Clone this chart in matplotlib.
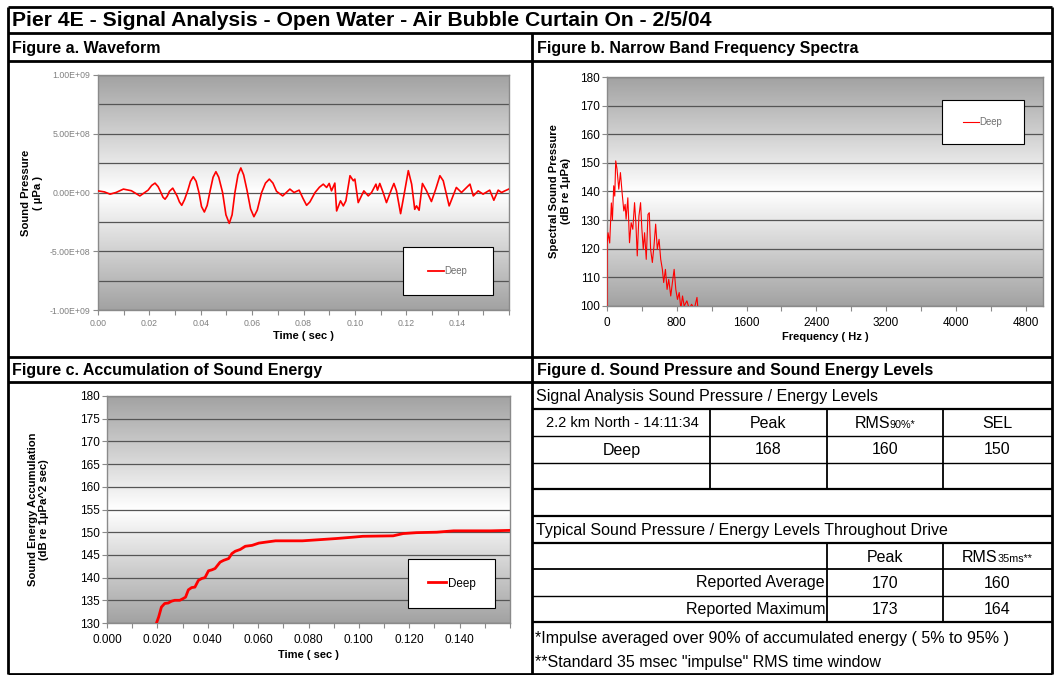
import numpy as np
import matplotlib
matplotlib.use("Agg")
import matplotlib.pyplot as plt
from matplotlib.colors import LinearSegmentedColormap
from matplotlib.patches import Rectangle
from matplotlib.lines import Line2D
from matplotlib.offsetbox import TextArea, HPacker, AnnotationBbox
from matplotlib.ticker import MultipleLocator, FixedLocator, FuncFormatter

plt.rcParams['font.family'] = ['Liberation Sans', 'DejaVu Sans']

W, H = 1054, 675
RED = '#ff0000'

TITLE = "Pier 4E - Signal Analysis - Open Water - Air Bubble Curtain On - 2/5/04"
PANEL_TITLES = ["Figure a. Waveform", "Figure b. Narrow Band Frequency Spectra",
                "Figure c. Accumulation of Sound Energy",
                "Figure d. Sound Pressure and Sound Energy Levels"]

# Figure a: waveform, time (s) / pressure (x1e8 uPa)
wave_t = [0.0000, 0.0025, 0.0047, 0.0070, 0.0099, 0.0130, 0.0163, 0.0195, 0.0209, 0.0222,
          0.0234, 0.0245, 0.0253, 0.0261, 0.0270, 0.0278, 0.0291, 0.0308, 0.0317, 0.0326,
          0.0337, 0.0350, 0.0360, 0.0371, 0.0382, 0.0393, 0.0403, 0.0414, 0.0425, 0.0437,
          0.0448, 0.0459, 0.0470, 0.0485, 0.0498, 0.0511, 0.0522, 0.0533, 0.0545, 0.0556,
          0.0567, 0.0580, 0.0594, 0.0607, 0.0620, 0.0637, 0.0652, 0.0667, 0.0681, 0.0695,
          0.0719, 0.0747, 0.0763, 0.0783, 0.0798, 0.0812, 0.0825, 0.0845, 0.0862, 0.0877,
          0.0890, 0.0900, 0.0909, 0.0922, 0.0929, 0.0944, 0.0955, 0.0965, 0.0981, 0.0994,
          0.1000, 0.1013, 0.1035, 0.1052, 0.1065, 0.1082, 0.1088, 0.1097, 0.1110, 0.1123,
          0.1143, 0.1152, 0.1162, 0.1178, 0.1193, 0.1208, 0.1221, 0.1233, 0.1240, 0.1250, 0.1263,
          0.1279, 0.1298, 0.1315, 0.1331, 0.1344, 0.1367, 0.1395, 0.1415, 0.1448, 0.1461, 0.1480,
          0.1499, 0.1525, 0.1541, 0.1558, 0.1571, 0.1584, 0.1600]
wave_p = [0.14, 0.05, -0.14, 0.0, 0.29, 0.15, -0.29, 0.2, 0.6, 0.8,
          0.5, 0.0, -0.4, -0.57, -0.3, 0.1, 0.37, -0.3, -0.8, -1.09,
          -0.6, 0.2, 0.95, 1.34, 0.95, 0.0, -1.2, -1.66, -1.1, 0.2,
          1.3, 1.77, 1.3, 0.0, -1.9, -2.63, -1.9, 0.0, 1.5, 2.09,
          1.5, 0.2, -1.4, -2.06, -1.5, 0.0, 0.8, 1.14, 0.8, 0.1,
          -0.29, 0.29, 0.0, 0.2, -0.5, -1.09, -0.8, 0.0, 0.45, 0.71,
          0.43, 0.77, 0.14, 0.8, -1.57, -0.71, -1.14, -0.71, 1.43, 1.0,
          1.14, -0.86, 0.14, -0.29, 0.0, 0.71, 0.2, 0.77, 0.0, -0.86,
          0.29, 0.77, 0.14, -1.8, 0.0, 1.86, 0.71, -1.43, -1.14, -1.51, 0.77,
          0.14, -0.77, 0.3, 1.43, 1.0, -1.14, 0.43, 0.0, 0.71, -0.29, 0.14,
          -0.14, 0.2, -0.66, 0.2, 0.0, 0.14, 0.3]

# Figure b: narrow band spectrum, Hz / dB re 1uPa
spec_f = [0, 2, 12, 31, 50, 62, 77, 89, 100, 115, 135, 154, 173, 193, 208, 219,
          239, 258, 277, 296, 316, 331, 347, 366, 385, 400, 416, 431, 450, 470,
          485, 500, 520, 539, 558, 577, 597, 616, 635, 650, 670, 689, 708, 731,
          750, 770, 789, 808, 828, 847, 866, 885, 916, 943, 970, 1001, 1032, 1040,
          1047]
spec_db = [98, 122, 125.6, 122, 136, 130, 142, 138.4, 150.7, 147.8, 140.8, 146.6,
           139.6, 133.2, 135.5, 130.3, 137.8, 122.1, 129.1, 126.8, 136.1, 129.1,
           117.5, 131.4, 136.1, 126.8, 119.8, 125.6, 116.3, 132, 132.6, 119.8,
           115.2, 121, 128.6, 119.8, 123.3, 116.3, 112.8, 108.2, 112.8, 105.8,
           109.3, 103.5, 108.2, 112.8, 105.8, 102.3, 104.7, 99, 103.5, 100, 101.8,
           99, 100.6, 99, 103, 100, 96]

# Figure c: accumulated sound energy, s / dB re 1uPa^2 sec
acc_t = [0.0190, 0.0205, 0.0216, 0.0229, 0.0243, 0.0256, 0.0269, 0.0289, 0.0303,
         0.0312, 0.0323, 0.0336, 0.0349, 0.0363, 0.0376, 0.0389, 0.0403, 0.0416,
         0.0429, 0.0449, 0.0463, 0.0483, 0.0496, 0.0509, 0.0529, 0.0549, 0.0576,
         0.0603, 0.0629, 0.0669, 0.0776, 0.0856, 0.0909, 0.0976, 0.1016, 0.1136,
         0.1176, 0.1229, 0.1309, 0.1376, 0.1523, 0.1600]
acc_db = [129.0, 131.3, 133.5, 134.3, 134.4, 134.8, 135.0, 135.0, 135.4,
          135.7, 137.3, 137.8, 137.9, 139.4, 139.8, 140.0, 141.5, 141.7,
          142.0, 143.4, 143.8, 144.2, 145.3, 145.8, 146.2, 146.9, 147.1,
          147.6, 147.8, 148.1, 148.1, 148.4, 148.6, 148.9, 149.1, 149.2,
          149.7, 149.9, 150.0, 150.3, 150.3, 150.4]

# Figure d: levels table
sig_heading = "Signal Analysis Sound Pressure / Energy Levels"
sig_cols = ["2.2 km North - 14:11:34", "Peak", ("RMS", "90%*"), "SEL"]
sig_rows = [["Deep", "168", "160", "150"]]
typ_heading = "Typical Sound Pressure / Energy Levels Throughout Drive"
typ_cols = ["Peak", ("RMS", "35ms**")]
typ_labels = ["Reported Average", "Reported Maximum"]
typ_peak = [170, 173]
typ_rms = [160, 164]
notes = ["*Impulse averaged over 90% of accumulated energy ( 5% to 95% )",
         "**Standard 35 msec \"impulse\" RMS time window"]

fig = plt.figure(figsize=(W / 100, H / 100), dpi=100)


def rect(l, t, r, b):
    return [l / W, 1 - b / H, (r - l) / W, (b - t) / H]


bg = fig.add_axes([0, 0, 1, 1])
bg.set_xlim(0, W)
bg.set_ylim(H, 0)
bg.axis('off')


def hline(y, x0, x1, lw=2.0):
    bg.plot([x0, x1], [y, y], color='black', lw=lw, solid_capstyle='butt')


def vline(x, y0, y1, lw=2.0):
    bg.plot([x, x], [y0, y1], color='black', lw=lw, solid_capstyle='butt')


# frame
L, R, T, B, MID = 8, 1052, 7, 673.5, 532
for y in (T, 33, 61, 357, 382, B):
    hline(y, L, R)
vline(L, T, B)
vline(R, T, B)
vline(MID, 33, B)

bg.text(12, 20, TITLE, fontsize=15.2, fontweight='bold', va='center')
bg.text(12, 48, PANEL_TITLES[0], fontsize=11.5, fontweight='bold', va='center')
bg.text(537, 48, PANEL_TITLES[1], fontsize=11.5, fontweight='bold', va='center')
bg.text(12, 370, PANEL_TITLES[2], fontsize=11.5, fontweight='bold', va='center')
bg.text(537, 370, PANEL_TITLES[3], fontsize=11.5, fontweight='bold', va='center')

shade_cmap = LinearSegmentedColormap.from_list('shade', ['#ffffff', '#a2a2a2'])


def style(ax, labelsize, labelcolor, xpad, ypad):
    g = np.abs(np.linspace(-1, 1, 256))[:, None]
    ax.imshow(g, cmap=shade_cmap, extent=[0, 1, 0, 1], transform=ax.transAxes,
              aspect='auto', zorder=0, interpolation='bilinear')
    ax.set_axisbelow(True)
    ax.grid(True, axis='y', which='both', color='#555555', lw=0.9)
    for s in ax.spines.values():
        s.set_color('#8a8a8a')
        s.set_linewidth(1.0)
    ax.tick_params(which='both', direction='out', color='#8a8a8a', width=0.8,
                   length=3.5, labelsize=labelsize, labelcolor=labelcolor)
    ax.tick_params(axis='x', pad=xpad)
    ax.tick_params(axis='y', pad=ypad)


def legend_box(ax, box, fontsize, lw, textcolor):
    x0, y0, x1, y1 = box
    ax.add_patch(Rectangle((x0, y0), x1 - x0, y1 - y0, transform=ax.transAxes,
                           facecolor='white', edgecolor='black', lw=0.8, zorder=4))
    h = Line2D([], [], color=RED, lw=lw)
    ax.legend([h], ['Deep'], loc='center', bbox_to_anchor=((x0 + x1) / 2, (y0 + y1) / 2),
              frameon=False, fontsize=fontsize, handlelength=1.6, handletextpad=0.1,
              labelcolor=textcolor)


# Figure a
ax_a = fig.add_axes(rect(98, 75, 509, 310))
style(ax_a, 6.3, '#808080', 3, 2.2)
ax_a.plot(wave_t, np.array(wave_p) * 1e8, color=RED, lw=1.2, zorder=3)
ax_a.set_xlim(0, 0.16)
ax_a.set_ylim(-1e9, 1e9)
ax_a.xaxis.set_major_locator(FixedLocator(np.arange(0, 0.141, 0.02)))
ax_a.xaxis.set_minor_locator(MultipleLocator(0.01))
ax_a.xaxis.set_major_formatter(FuncFormatter(lambda v, p: f"{v:.2f}"))
ax_a.yaxis.set_major_locator(MultipleLocator(5e8))
ax_a.yaxis.set_minor_locator(MultipleLocator(2.5e8))
ax_a.tick_params(axis='y', which='minor', length=0)
ax_a.yaxis.set_major_formatter(FuncFormatter(lambda v, p: f"{v:.2E}"))
ax_a.set_xlabel("Time ( sec )", fontsize=8, fontweight='bold', labelpad=2)
ax_a.set_ylabel("Sound Pressure\n( \u00b5Pa )", fontsize=8.1, fontweight='bold',
                va='center', ha='center')
ax_a.yaxis.set_label_coords(-0.16, 0.5)
legend_box(ax_a, (0.742, 0.064, 0.961, 0.268), 6.9, 1.3, '#707070')

# Figure b
ax_b = fig.add_axes(rect(607, 77, 1043, 306))
style(ax_b, 8.5, 'black', 4.3, 1.8)
ax_b.plot(spec_f, spec_db, color=RED, lw=0.8, zorder=3)
ax_b.set_xlim(0, 5000)
ax_b.set_ylim(100, 180)
ax_b.xaxis.set_major_locator(FixedLocator(np.arange(0, 4801, 800)))
ax_b.xaxis.set_minor_locator(MultipleLocator(400))
ax_b.yaxis.set_major_locator(MultipleLocator(10))
ax_b.set_xlabel("Frequency ( Hz )", fontsize=8, fontweight='bold', labelpad=2)
ax_b.set_ylabel("Spectral Sound Pressure\n(dB re 1\u00b5Pa)", fontsize=8.1,
                fontweight='bold', va='center', ha='center')
ax_b.yaxis.set_label_coords(-0.108, 0.5)
legend_box(ax_b, (0.768, 0.706, 0.956, 0.900), 6.9, 0.8, '#707070')

# Figure c
ax_c = fig.add_axes(rect(107, 396, 510, 623))
style(ax_c, 8.5, 'black', 4.5, 1.8)
ax_c.plot(acc_t, acc_db, color=RED, lw=2.0, zorder=3)
ax_c.set_xlim(0, 0.16)
ax_c.set_ylim(130, 180)
ax_c.xaxis.set_major_locator(FixedLocator(np.arange(0, 0.141, 0.02)))
ax_c.xaxis.set_minor_locator(MultipleLocator(0.01))
ax_c.xaxis.set_major_formatter(FuncFormatter(lambda v, p: f"{v:.3f}"))
ax_c.yaxis.set_major_locator(MultipleLocator(5))
ax_c.set_xlabel("Time ( sec )", fontsize=8, fontweight='bold', labelpad=3)
ax_c.set_ylabel("Sound Energy Accumulation\n(dB re 1\u00b5Pa^2 sec)", fontsize=8.1,
                fontweight='bold', va='center', ha='center')
ax_c.yaxis.set_label_coords(-0.17, 0.5)
legend_box(ax_c, (0.747, 0.066, 0.963, 0.282), 8.4, 2.0, 'black')

# Figure d: table
FS = 11.5
hline(409, MID, R, 1.6)
hline(436, MID, R, 1.0)
hline(463, MID, R, 1.0)
hline(489, MID, R, 1.6)
hline(516, MID, R, 1.6)
hline(543, MID, R, 1.6)
hline(569, MID, R, 1.3)
hline(596, MID, R, 1.0)
hline(622, MID, R, 1.6)
for x in (710, 827, 943):
    vline(x, 409, 489, 1.3)
for x in (827, 943):
    vline(x, 543, 622, 1.3)


def cell(x, y, content, ha='center', size=FS):
    if isinstance(content, tuple):
        box = HPacker(children=[TextArea(content[0], textprops=dict(size=size)),
                                TextArea(content[1], textprops=dict(size=size * 0.68))],
                      align='baseline', pad=0, sep=0)
        bg.add_artist(AnnotationBbox(box, (x, y), xycoords='data', frameon=False,
                                     box_alignment=(0.5, 0.5)))
    else:
        bg.text(x, y, content, fontsize=size, ha=ha, va='center')


bg.text(536, 397, sig_heading, fontsize=FS, va='center')
sig_x = [622, 768, 885, 997]
for i, (x, c) in enumerate(zip(sig_x, sig_cols)):
    cell(x, 423, c, size=10.5 if i == 0 else FS)
for r, row in enumerate(sig_rows):
    for x, c in zip(sig_x, row):
        cell(x, 450 + 27 * r, c)

bg.text(536, 531, typ_heading, fontsize=FS, va='center')
cell(885, 557, typ_cols[0])
cell(997, 557, typ_cols[1])
for i, lab in enumerate(typ_labels):
    y = 583 + 26.5 * i
    cell(825, y, lab, ha='right')
    cell(885, y, str(typ_peak[i]))
    cell(997, y, str(typ_rms[i]))

bg.text(535, 638, notes[0], fontsize=FS, va='center')
bg.text(535, 663, notes[1], fontsize=FS, va='center')

fig.savefig("out.png", dpi=100)
